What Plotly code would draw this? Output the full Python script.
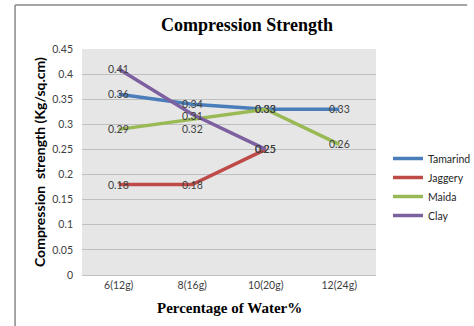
import plotly.graph_objects as go

categories = ["6(12g)", "8(16g)", "10(20g)", "12(24g)"]
tamarind = [0.36, 0.34, 0.33, 0.33]
jaggery = [0.18, 0.18, 0.25]
maida = [0.29, 0.31, 0.33, 0.26]
clay = [0.41, 0.32, 0.25]
y_ticks = [0, 0.05, 0.1, 0.15, 0.2, 0.25, 0.3, 0.35, 0.4, 0.45]

series = [
    ("Tamarind", tamarind, "#4A7EBB"),
    ("Jaggery", jaggery, "#BE4B48"),
    ("Maida", maida, "#98B954"),
    ("Clay", clay, "#7D60A0"),
]
# label pixel nudges (series, point index) -> yshift
label_shift = {("Maida", 1): 3, ("Clay", 1): -15}

W, H = 474, 326
L, R, T, B = 82, 89, 49, 51
SANS = "Lato, Open Sans, sans-serif"
SERIF = "Liberation Serif, Times New Roman, serif"

fig = go.Figure()
annotations = []
for name, vals, color in series:
    fig.add_trace(go.Scatter(
        x=categories[:len(vals)], y=vals, name=name, mode="lines",
        line=dict(color=color, width=3.5),
    ))
    for i, v in enumerate(vals):
        annotations.append(dict(
            x=categories[i], y=v, xref="x", yref="y", text=f"{v:.2f}", showarrow=False,
            xanchor="center", yanchor="middle", yshift=label_shift.get((name, i), 0),
            font=dict(family=SANS, size=10.5, color="#404040"),
        ))

annotations += [
    dict(text="<b>Compression  strength (Kg/sq.cm)</b>", xref="paper", yref="paper",
         x=0, y=0.5, xshift=-(L - 39), textangle=-90, showarrow=False,
         xanchor="center", yanchor="middle",
         font=dict(family=SANS, size=14, color="black")),
    dict(text="<b>Percentage of Water%</b>", xref="paper", yref="paper",
         x=0.5, y=0, yshift=-(308 - (H - B)), showarrow=False,
         xanchor="center", yanchor="middle",
         font=dict(family=SERIF, size=15, color="black")),
]

pw = W - L - R
ph = H - T - B
fig.update_layout(
    width=W, height=H,
    margin=dict(l=L, r=R, t=T, b=B),
    paper_bgcolor="white",
    plot_bgcolor="#E6E6E6",
    title=dict(text="<b>Compression Strength</b>", xref="container", yref="container",
               x=247 / W, y=1 - 25 / H, xanchor="center", yanchor="middle",
               font=dict(family=SERIF, size=18, color="black")),
    xaxis=dict(categoryorder="array", categoryarray=categories, range=[-0.5, 3.5],
               showgrid=False, showline=True, linecolor="#BFBFBF", ticks="",
               tickfont=dict(family=SANS, size=10.5, color="#404040")),
    yaxis=dict(range=[0, 0.45], tickvals=y_ticks, ticktext=[f"{v:g}" for v in y_ticks],
               showgrid=True, gridcolor="#BFBFBF", gridwidth=1, zeroline=False,
               tickfont=dict(family=SANS, size=10.5, color="#404040"),
               ticklabelstandoff=8),
    legend=dict(xref="container", yref="container", x=388 / W, y=1 - 144 / H,
                xanchor="left", yanchor="top", bgcolor="rgba(0,0,0,0)",
                font=dict(family=SANS, size=10.5, color="#262626"),
                itemwidth=30, tracegroupgap=0),
    showlegend=True,
    annotations=annotations,
    shapes=[
        dict(type="line", xref="paper", yref="paper", x0=(13 - L) / pw, x1=(W + 5 - L) / pw,
             y0=1 + (T - 5) / ph, y1=1 + (T - 5) / ph,
             line=dict(color="#888888", width=1.5)),
        dict(type="line", xref="paper", yref="paper", x0=(13 - L) / pw, x1=(13 - L) / pw,
             y0=1 + (T - 5) / ph, y1=-(B + 5) / ph,
             line=dict(color="#888888", width=1.5)),
    ],
)

fig.write_html("out.html", config={"displayModeBar": False},
               post_script="document.body.style.margin='0';")
